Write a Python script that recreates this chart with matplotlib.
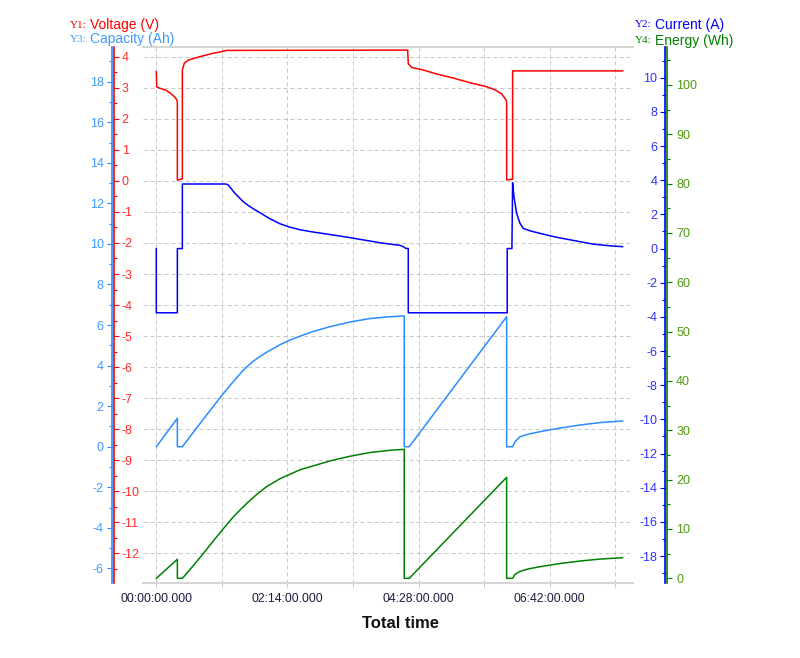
import matplotlib
matplotlib.use('Agg')
import matplotlib.pyplot as plt
from matplotlib.ticker import MultipleLocator, FuncFormatter, NullFormatter

# ---------------- data (time in minutes) ----------------
volt_t = [0, 0.4, 3.8, 10.6, 15.7, 19.1, 20.8, 21.5, 21.5, 25.9, 26.6, 26.6, 28.6, 32.7,
          44.6, 58.2, 65.1, 71.9, 256.8, 257.4, 260.9, 272.7, 286.4, 303.4, 320.4, 337.5,
          346.0, 352.8, 357.2, 357.9, 357.9, 363.3, 364.0, 364.0, 476.4]
volt_v = [3.52, 3.03, 2.98, 2.91, 2.79, 2.69, 2.61, 2.55, 0.02, 0.06, 0.06, 3.57, 3.79, 3.89,
          4.00, 4.11, 4.15, 4.20, 4.21, 3.77, 3.65, 3.57, 3.44, 3.31, 3.16, 3.03,
          2.93, 2.80, 2.61, 2.55, 0.03, 0.05, 0.05, 3.54, 3.54]

cur_t = [0, 0, 21.5, 21.5, 26.6, 26.6, 71.2, 73.5, 75.3, 78.5, 82.1, 88.9, 95, 99.1, 105.9,
         115, 126.4, 136, 146.8, 160, 177.5, 197.9, 218.3, 228.5, 238.7, 248.9, 252.3, 255.0,
         257.4, 257.4, 358.5, 358.5, 363.3, 364.0, 365.4, 368.1, 371.5, 374.9, 381.7, 391.9,
         409.0, 429.4, 446.4, 463.5, 476.4]
cur_v = [0, -3.76, -3.76, 0, 0, 3.78, 3.78, 3.72, 3.60, 3.36, 3.13, 2.74, 2.48, 2.33, 2.10,
         1.78, 1.45, 1.26, 1.10, 0.97, 0.82, 0.64, 0.44, 0.34, 0.26, 0.19, 0.11, 0.01,
         0.0, -3.76, -3.76, 0, 0, 3.85, 3.03, 2.06, 1.48, 1.18, 1.04, 0.89,
         0.66, 0.44, 0.26, 0.16, 0.11]

cap_t = [0, 21.5, 21.5, 26.6, 44.6, 65.1, 71.2, 75.3, 82.1, 88.9, 99.1, 105.9, 112.8, 126.4,
         136, 146.8, 160, 177.5, 197.9, 218.3, 238.7, 253.3, 253.3, 258.4, 357.9, 357.9,
         364.0, 366.5, 371.5, 380, 391.9, 412.4, 432.8, 453.3, 476.4]
cap_v = [0, 1.40, 0, 0, 1.14, 2.42, 2.78, 3.02, 3.40, 3.78, 4.22, 4.45, 4.66, 5.03,
         5.25, 5.45, 5.68, 5.92, 6.15, 6.32, 6.41, 6.45, 0, 0, 6.41, 0,
         0, 0.25, 0.49, 0.62, 0.74, 0.92, 1.07, 1.19, 1.27]

en_t = [0, 21.5, 21.5, 26.6, 38.0, 51.5, 60.0, 71.2, 78.0, 85.5, 93.0, 102.6, 112.8, 126.4,
        146.8, 177.5, 197.9, 218.3, 238.7, 253.3, 253.3, 258.4, 357.9, 357.9, 364.0, 366.5,
        371.5, 380, 391.9, 412.4, 432.8, 453.3, 476.4]
en_v = [0, 3.85, 0, 0, 2.6, 5.9, 8.0, 10.7, 12.3, 13.85, 15.3, 17.0, 18.6, 20.2,
        22.0, 23.8, 24.75, 25.5, 25.95, 26.15, 0, 0, 20.47, 0, 0, 0.8,
        1.4, 1.9, 2.35, 3.0, 3.5, 3.9, 4.18]

x_major = [0, 134, 268, 402]
x_minor = [67, 201, 335, 469]

# ---------------- styling ----------------
plt.rcParams['font.family'] = ['Liberation Sans', 'DejaVu Sans']
plt.rcParams['axes.unicode_minus'] = False

C_VOLT = '#ff0000'
C_CUR = '#0000ff'
C_CAP = '#2a8cff'
C_EN = '#008000'
C_VOLT_TXT = '#ff2a2a'
C_CUR_TXT = '#3030ff'
C_CAP_TXT = '#3c9aff'
C_EN_TXT = '#4f9a10'
GRID = '#c8c8c8'

fig = plt.figure(figsize=(8, 6.58), dpi=100)
fig.patch.set_facecolor('white')
W, H = 800.0, 658.0
L, R, T, B = 143, 633, 47, 583
ax = fig.add_axes([L / W, (H - B) / H, (R - L) / W, (B - T) / H])

ax_cap = ax.twinx()
ax_cur = ax.twinx()
ax_en = ax.twinx()

lw = 1.1
ax.plot(volt_t, volt_v, color=C_VOLT, lw=lw)
ax_cap.plot(cap_t, cap_v, color=C_CAP, lw=lw)
ax_cur.plot(cur_t, cur_v, color=C_CUR, lw=lw)
ax_en.plot(en_t, en_v, color=C_EN, lw=lw)

ax.set_xlim(-13.6, 487.0)
ax.set_ylim(-12.95, 4.31)
ax_cap.set_ylim(-6.72, 19.71)
ax_cur.set_ylim(-19.58, 11.80)
ax_en.set_ylim(-0.95, 107.7)

# x axis
ax.set_xticks(x_major)
ax.set_xticks(x_minor, minor=True)
ax.xaxis.set_major_formatter(FuncFormatter(
    lambda t, p: f"{int(round(t)) // 60:02d}:{int(round(t)) % 60:02d}:00.000"))
ax.xaxis.set_minor_formatter(NullFormatter())
ax.tick_params(axis='x', which='both', direction='out', length=2.9, width=0.72,
               color=GRID, labelcolor='#1a1a40', labelsize=8.8, pad=4.5)

# grid
ax.xaxis.grid(True, which='both', color=GRID, lw=0.72, ls=(0, (4, 3)))
ax.yaxis.grid(True, which='major', color=GRID, lw=0.72, ls=(0, (4, 3)))
ax.set_axisbelow(True)

ax.spines['left'].set_visible(False)
ax.spines['top'].set_color('#d6d6d6')
ax.spines['bottom'].set_color('#d6d6d6')
ax.spines['top'].set_linewidth(1.5)
ax.spines['bottom'].set_linewidth(1.5)

YLS = 9

# voltage axis (red): spine at left, labels to its right
ax.yaxis.tick_right()
ax.yaxis.set_label_position('right')
ax.spines['right'].set_position(('axes', (114 - L) / (R - L)))
ax.spines['right'].set_color(C_VOLT)
ax.spines['right'].set_linewidth(1.2)
ax.yaxis.set_major_locator(MultipleLocator(1))
ax.yaxis.set_minor_locator(MultipleLocator(0.5))
ax.yaxis.set_minor_formatter(NullFormatter())
ax.tick_params(axis='y', which='major', direction='out', length=3.6, width=0.8,
               color=C_VOLT, labelcolor=C_VOLT_TXT, labelsize=YLS, pad=2)
ax.tick_params(axis='y', which='minor', direction='out', length=2.2, width=0.8, color=C_VOLT)

def clean(a):
    for s in ['top', 'bottom', 'left', 'right']:
        a.spines[s].set_visible(False)

# capacity axis (light blue) far left
clean(ax_cap)
ax_cap.yaxis.tick_left()
ax_cap.yaxis.set_label_position('left')
ax_cap.spines['left'].set_visible(True)
ax_cap.spines['left'].set_position(('axes', (111.5 - L) / (R - L)))
ax_cap.spines['left'].set_color(C_CAP)
ax_cap.spines['left'].set_linewidth(1.2)
ax_cap.yaxis.set_major_locator(MultipleLocator(2))
ax_cap.yaxis.set_minor_locator(MultipleLocator(1))
ax_cap.tick_params(axis='y', which='major', direction='out', length=3.6, width=0.8,
                   color=C_CAP, labelcolor=C_CAP_TXT, labelsize=YLS, pad=2)
ax_cap.tick_params(axis='y', which='minor', direction='out', length=2.2, width=0.8, color=C_CAP)

# current axis (blue) right, labels to its left
clean(ax_cur)
ax_cur.yaxis.tick_left()
ax_cur.yaxis.set_label_position('left')
ax_cur.spines['left'].set_visible(True)
ax_cur.spines['left'].set_position(('axes', (665 - L) / (R - L)))
ax_cur.spines['left'].set_color(C_CUR)
ax_cur.spines['left'].set_linewidth(1.2)
ax_cur.yaxis.set_major_locator(MultipleLocator(2))
ax_cur.yaxis.set_minor_locator(MultipleLocator(1))
ax_cur.tick_params(axis='y', which='major', direction='out', length=3.6, width=0.8,
                   color=C_CUR, labelcolor=C_CUR_TXT, labelsize=YLS, pad=2)
ax_cur.tick_params(axis='y', which='minor', direction='out', length=2.2, width=0.8, color=C_CUR)

# energy axis (green) far right
clean(ax_en)
ax_en.yaxis.tick_right()
ax_en.spines['right'].set_visible(True)
ax_en.spines['right'].set_position(('axes', (667 - L) / (R - L)))
ax_en.spines['right'].set_color(C_EN)
ax_en.spines['right'].set_linewidth(1.2)
ax_en.yaxis.set_major_locator(MultipleLocator(10))
ax_en.yaxis.set_minor_locator(MultipleLocator(5))
ax_en.tick_params(axis='y', which='major', direction='out', length=3.6, width=0.8,
                  color=C_EN, labelcolor=C_EN_TXT, labelsize=YLS, pad=3)
ax_en.tick_params(axis='y', which='minor', direction='out', length=2.2, width=0.8, color=C_EN)

for a in (ax_cap, ax_cur, ax_en):
    a.yaxis.set_minor_formatter(NullFormatter())

# axis title
fig.text(400 / W, 1 - 624 / H, 'Total time', ha='center', va='center',
         fontsize=12, fontweight='bold', color='#111111')

# legend-like labels
def lab(x, y, tag, txt, c):
    fig.text(x / W, 1 - y / H, tag, ha='left', va='center', fontsize=8,
             family=['Liberation Serif', 'DejaVu Serif'], color=c)
    fig.text((x + 20) / W, 1 - y / H, txt, ha='left', va='center', fontsize=10, color=c)

lab(70, 25, 'Y1:', 'Voltage (V)', C_VOLT)
lab(70, 39.5, 'Y3:', 'Capacity (Ah)', C_CAP_TXT)
lab(635, 24.5, 'Y2:', 'Current (A)', C_CUR)
lab(635, 40.5, 'Y4:', 'Energy (Wh)', C_EN)

fig.savefig('out.png', dpi=100, facecolor='white')
